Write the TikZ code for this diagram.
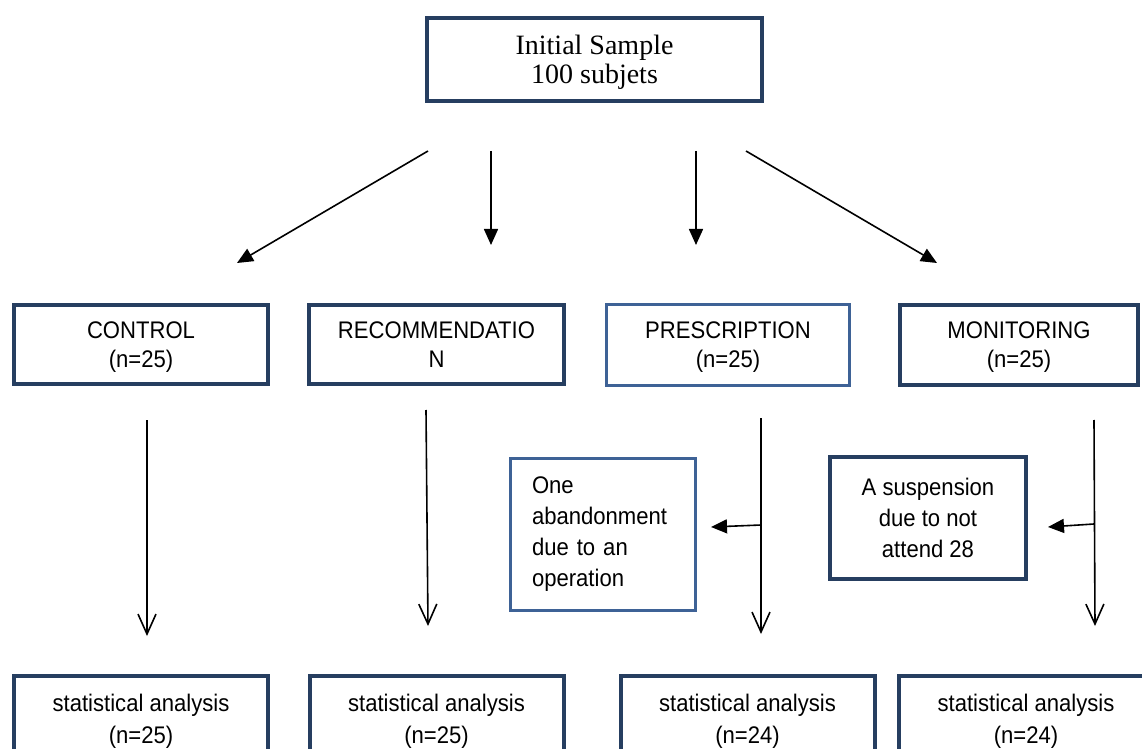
\documentclass[tikz,border=0pt]{standalone}
\usepackage{fontspec}
\setmainfont[FakeStretch=0.92]{Liberation Sans}
\newfontfamily\timesfont{Liberation Serif}
\usetikzlibrary{arrows.meta}
\definecolor{navy}{RGB}{38,62,96}
\definecolor{lblue}{RGB}{62,98,150}
\begin{document}
\begin{tikzpicture}[x=0.5pt,y=-0.5pt,
        box/.style={draw=navy,line width=2pt,align=center,inner sep=0pt,
            font=\fontsize{12}{14.5}\selectfont},
        lbox/.style={box,draw=lblue,line width=1.5pt},
        grpbox/.style={box,minimum width=127pt,minimum height=39.5pt,text depth=-4pt},
        statbox/.style={box,minimum width=127pt,minimum height=45pt,
            font=\fontsize{12}{16}\selectfont},
        fillarr/.style={-{Triangle[length=8pt,width=7pt]},line width=0.8pt},
        openarr/.style={-{Straight Barb[length=10pt,width=9pt]},line width=0.8pt}]
        \useasboundingbox (0,0) rectangle (1142,749);
        \clip (0,0) rectangle (1142,749);

        \node[box,minimum width=167.5pt,minimum height=41.5pt,text depth=-4pt,
            font=\timesfont\fontsize{14}{14.5}\selectfont] (init) at (594.5,59.5) {Initial Sample\\100 subjets};

        \node[grpbox] (ctrl) at (141,344.5) {CONTROL\\(n=25)};
        \node[grpbox,minimum width=127.5pt] (recom) at (436.5,344.5) {RECOMMENDATIO\\N};
        \node[lbox,minimum width=121.5pt,minimum height=40.5pt,text depth=-4pt] (presc) at (728,345) {PRESCRIPTION\\(n=25)};
        \node[grpbox,minimum width=119pt,minimum height=40pt] (monit) at (1019,345) {MONITORING\\(n=25)};

        \node[lbox,minimum width=92.5pt,minimum height=76pt,text width=71pt,align=left,
            font=\fontsize{12}{15.5}\selectfont] (aband) at (603,534.5) {One\\abandonment\\due to an\\operation};
        \node[box,minimum width=98pt,minimum height=61pt,
            font=\fontsize{12}{15.3}\selectfont] (susp) at (928,518) {A suspension\\due to not\\attend 28};

        \node[statbox] (stat1) at (141,721) {statistical analysis\\(n=25)};
        \node[statbox] (stat2) at (436.5,721) {statistical analysis\\(n=25)};
        \node[statbox] (stat3) at (747.5,721) {statistical analysis\\(n=24)};
        \node[statbox] (stat4) at (1026,721) {statistical analysis\\(n=24)};

        % arrow ends
        \coordinate (a1s) at (428,151);  \coordinate (a1e) at (237,263);
        \coordinate (a2s) at (491,151);  \coordinate (a2e) at (491,245);
        \coordinate (a3s) at (696,151);  \coordinate (a3e) at (696,245);
        \coordinate (a4s) at (746,151);  \coordinate (a4e) at (937,263);
        \coordinate (v1s) at (147,420);  \coordinate (v1e) at (147,636);
        \coordinate (v2s) at (426,410);  \coordinate (v2e) at (428,626);
        \coordinate (v3s) at (761,418);  \coordinate (v3e) at (761,634);
        \coordinate (v4s) at (1094,420); \coordinate (v4e) at (1095,626);
        \coordinate (s1s) at (761,525);  \coordinate (s1e) at (711,527);
        \coordinate (s2s) at (1094,524); \coordinate (s2e) at (1048,527);

        \draw[fillarr] (a1s) -- (a1e);
        \draw[fillarr] (a2s) -- (a2e);
        \draw[fillarr] (a3s) -- (a3e);
        \draw[fillarr] (a4s) -- (a4e);
        \draw[openarr] (v1s) -- (v1e);
        \draw[openarr] (v2s) -- (v2e);
        \draw[openarr] (v3s) -- (v3e);
        \draw[openarr] (v4s) -- (v4e);
        \draw[fillarr] (s1s) -- (s1e);
        \draw[fillarr] (s2s) -- (s2e);

    \end{tikzpicture}
\end{document}
